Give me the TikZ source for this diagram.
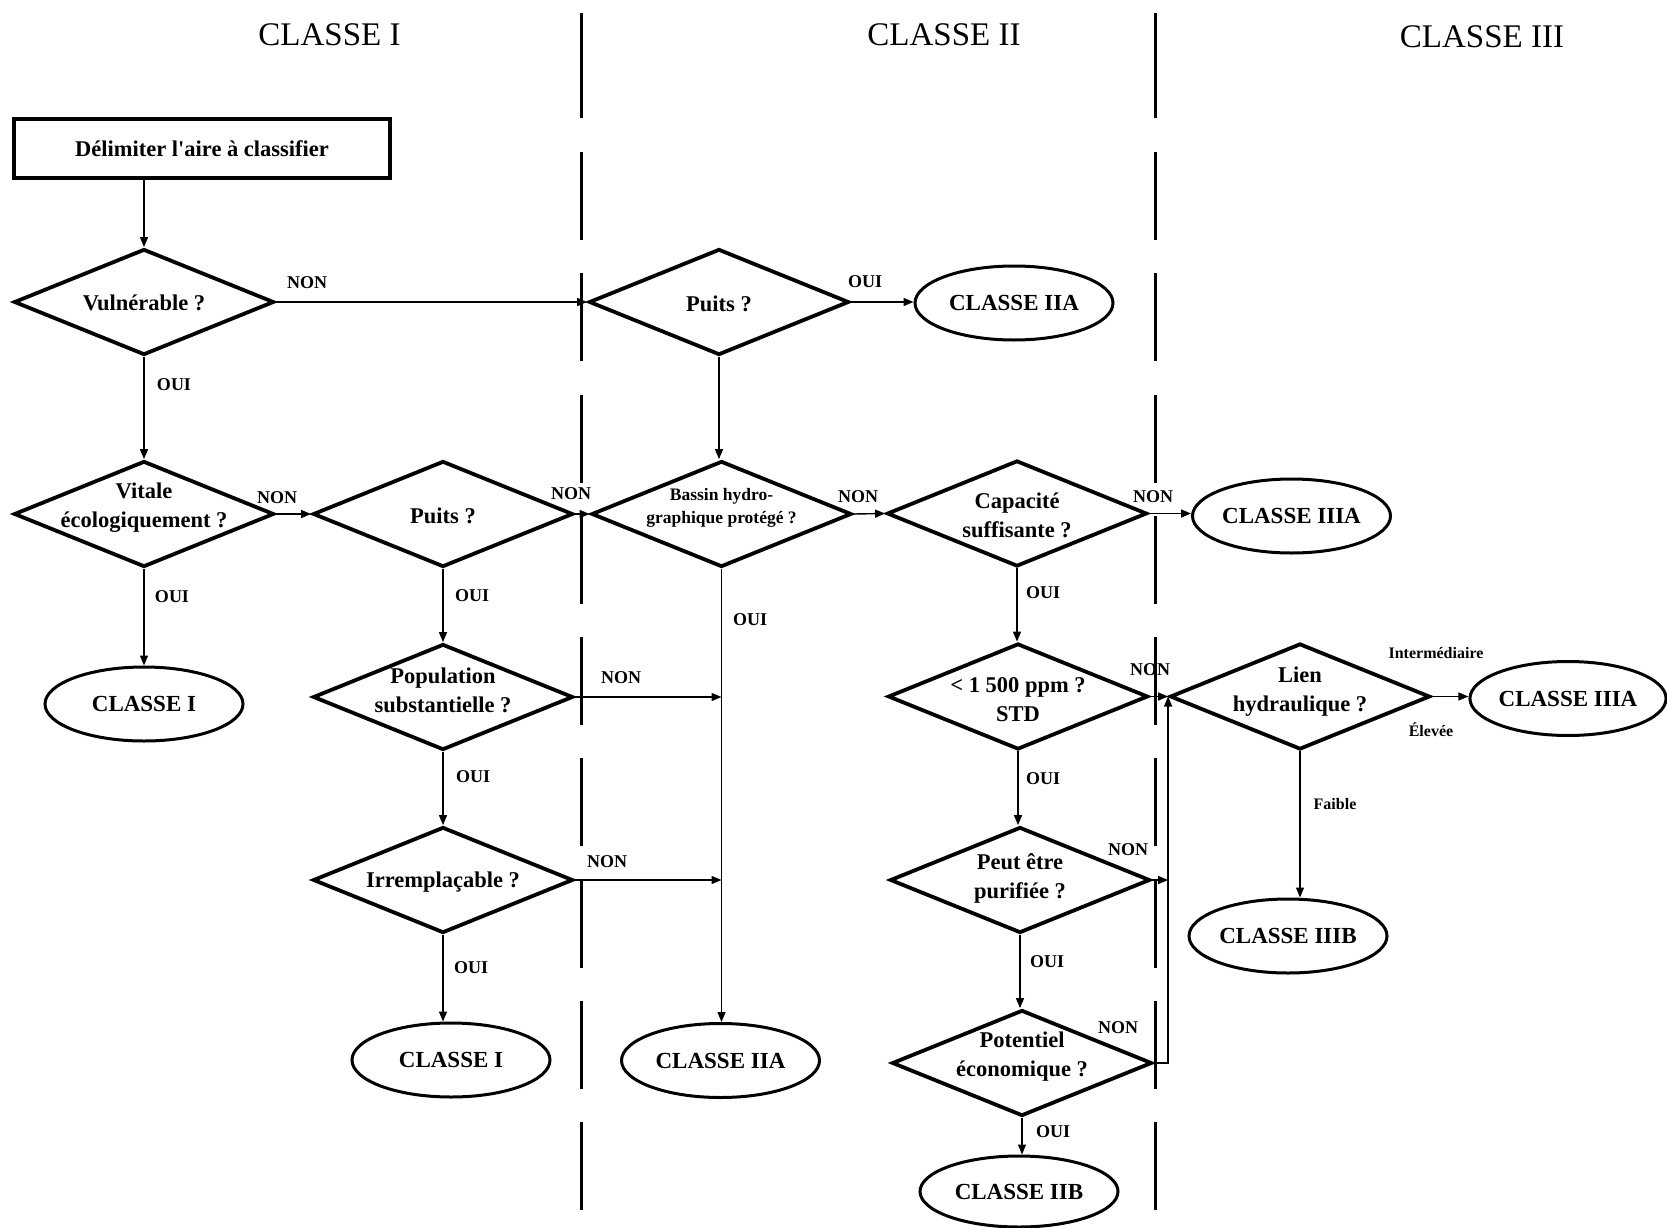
\documentclass[tikz,border=0pt]{standalone}
\usepackage{fontspec}
\setmainfont{Liberation Serif}
\usetikzlibrary{shapes.geometric,arrows.meta}
\newcommand\mynfont{\bfseries\fontsize{22.5}{29}\selectfont}
\newcommand\mybfont{\bfseries\fontsize{17.5}{23}\selectfont}
\newcommand\myxfont{\bfseries\fontsize{22.5}{26}\selectfont}
\newcommand\myefont{\bfseries\fontsize{23}{28}\selectfont}
\newcommand\mylfont{\bfseries\fontsize{18}{22}\selectfont}
\newcommand\mysfont{\bfseries\fontsize{16}{20}\selectfont}
\newcommand\mytfont{\fontsize{33}{40}\selectfont}
\newcommand\myapos{\XeTeXglyph\XeTeXglyphindex "quotesingle"\relax}
\newcommand\dtxt[2][0pt]{\smash{\makebox[0pt]{\raisebox{#1}{\begin{tabular}{@{}c@{}}#2\end{tabular}}}}}
\begin{document}
\begin{tikzpicture}[x=1pt,y=-1pt,
  dia/.style={diamond,draw,line width=3.8pt,minimum width=260pt,minimum height=106pt,inner sep=0pt,font=\mynfont},
  ell/.style={ellipse,draw,line width=3pt,minimum width=198pt,minimum height=74pt,inner sep=0pt,font=\myefont},
  lab/.style={font=\mylfont,inner sep=0pt},
  slab/.style={font=\mysfont,inner sep=0pt},
  ttl/.style={font=\mytfont,inner sep=0pt},
  arr/.style={line width=1.4pt,-{Triangle[length=10pt,width=8pt]}},
  sep/.style={line width=3.6pt},
]
\fill[white] (0,0) rectangle (1667,1228);
\useasboundingbox (0,0) rectangle (1667,1228);

% separators
\draw[sep] (581.5,13) -- (581.5,118);
\draw[sep,dash pattern=on 88pt off 33.25pt] (581.5,152) -- (581.5,1228);
\draw[sep] (1155.5,13) -- (1155.5,118);
\draw[sep,dash pattern=on 88pt off 33.25pt] (1155.5,152) -- (1155.5,1228);

% titles
\node[ttl] (t1) at (329.5,35) {CLASSE I};
\node[ttl] (t2) at (944,35) {CLASSE II};
\node[ttl] (t3) at (1482,37) {CLASSE III};

% nodes
\node[draw,line width=3.2pt,minimum width=376pt,minimum height=59pt,inner sep=0pt,font=\myxfont] (box) at (202,148.5) {Délimiter l\myapos aire à classifier};
\node[dia] (vul) at (144,302) {\dtxt[-8pt]{Vulnérable ?}};
\node[dia] (vit) at (144,514) {\dtxt[1.5pt]{Vitale\\écologiquement ?}};
\node[ell] (c1a) at (144,704) {CLASSE I};
\node[dia] (puI) at (443,514) {\dtxt[-8.5pt]{Puits ?}};
\node[dia] (pop) at (443,697) {\dtxt{Population\\substantielle ?}};
\node[dia] (irr) at (443,880) {\dtxt[-7pt]{Irremplaçable ?}};
\node[ell] (c1b) at (451,1060) {CLASSE I};
\node[dia] (puII) at (719,302) {\dtxt[-8.5pt]{Puits ?}};
\node[ell] (c2a) at (1014,303) {CLASSE IIA};
\node[dia,font=\mybfont] (bas) at (721.5,514) {\dtxt[2.5pt]{Bassin hydro-\\graphique protégé ?}};
\node[ell] (c2b) at (720.5,1060.5) {CLASSE IIA};
\node[dia] (cap) at (1017,513.5) {\dtxt[-8.8pt]{Capacité\\suffisante ?}};
\node[ell] (c3a) at (1291.5,516) {CLASSE IIIA};
\node[dia] (ppm) at (1018,696.5) {\dtxt[-10pt]{< 1 500 ppm ?\\STD}};
\node[dia] (lien) at (1300,696.5) {\dtxt{Lien\\hydraulique ?}};
\node[ell,minimum width=194pt] (c3a2) at (1568,698.5) {CLASSE IIIA};
\node[ell] (c3b) at (1288,936) {CLASSE IIIB};
\node[dia] (peut) at (1020,880) {\dtxt[-3.8pt]{Peut être\\purifiée ?}};
\node[dia] (pot) at (1022,1063) {\dtxt[2pt]{Potentiel\\économique ?}};
\node[ell,minimum height=71pt] (c2b2) at (1019,1191.5) {CLASSE IIB};

% connectors
\draw[arr] (box.south -| vul.north) -- (vul.north);
\draw[arr] (vul.east) -- (puII.west);
\draw[arr] (vul.south) -- (vit.north);
\draw[arr] (vit.east) -- (puI.west);
\draw[arr] (vit.south) -- (c1a.north);
\draw[arr] (puI.east) -- (bas.west);
\draw[arr] (puI.south) -- (pop.north);
\draw[arr] (pop.south) -- (irr.north);
\draw[arr] (irr.south) -- (irr.south |- c1b.north);
\draw[arr] (pop.east) -- (pop.east -| bas.south);
\draw[arr] (irr.east) -- (irr.east -| bas.south);
\draw[arr] (puII.east) -- (puII.east -| c2a.west);
\draw[arr] (puII.south) -- (puII.south |- bas.north);
\draw[arr] (bas.south) -- (bas.south |- c2b.north);
\draw[arr] (bas.east) -- (cap.west);
\draw[arr] (cap.east) -- (cap.east -| c3a.west);
\draw[arr] (cap.south) -- (cap.south |- ppm.north);
\draw[arr] (ppm.east) -- (lien.west);
\draw[arr] (ppm.south) -- (ppm.south |- peut.north);
\draw[arr] (peut.east) -- (peut.east -| lien.west);
\draw[arr] (peut.south) -- (peut.south |- pot.north);
\draw[arr] (pot.east) -| (lien.west);
\draw[arr] (pot.south) -- (pot.south |- c2b2.north);
\draw[arr] (lien.east) -- (lien.east -| c3a2.west);
\draw[arr] (lien.south) -- (lien.south |- c3b.north);

% labels
\node[lab] (l1) at (307,283) {NON};
\node[lab] (l2) at (174,385) {OUI};
\node[lab] (l3) at (277,498) {NON};
\node[lab] (l4) at (172,597) {OUI};
\node[lab] (l5) at (571,494) {NON};
\node[lab] (l6) at (472,596) {OUI};
\node[lab] (l7) at (621,678) {NON};
\node[lab] (l8) at (473,777) {OUI};
\node[lab] (l9) at (607,862) {NON};
\node[lab] (l10) at (471,968) {OUI};
\node[lab] (l11) at (865,282) {OUI};
\node[lab] (l12) at (750,620) {OUI};
\node[lab] (l13) at (858,497) {NON};
\node[lab] (l14) at (1153,497) {NON};
\node[lab] (l15) at (1043,593) {OUI};
\node[lab] (l16) at (1150,670) {NON};
\node[lab] (l17) at (1043,779) {OUI};
\node[lab] (l18) at (1128,850) {NON};
\node[lab] (l19) at (1047,962) {OUI};
\node[lab] (l20) at (1118,1028) {NON};
\node[lab] (l21) at (1053,1132) {OUI};
\node[slab] (l22) at (1436,653) {Intermédiaire};
\node[slab] (l23) at (1431,730) {Élevée};
\node[slab] (l24) at (1335,804) {Faible};
\end{tikzpicture}
\end{document}
